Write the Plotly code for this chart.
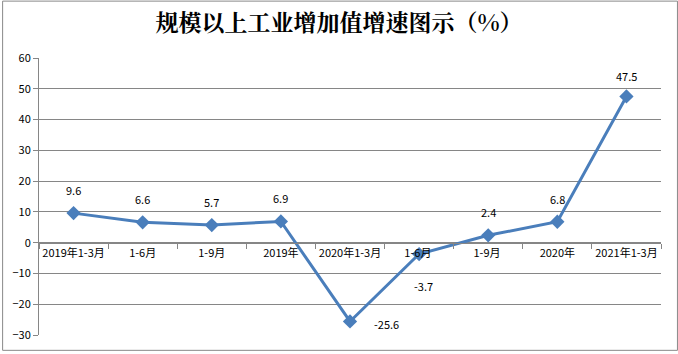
import plotly.graph_objects as go

categories = ["2019年1-3月", "1-6月", "1-9月", "2019年", "2020年1-3月", "1-6月 ", "1-9月 ", "2020年", "2021年1-3月"]
values = [9.6, 6.6, 5.7, 6.9, -25.6, -3.7, 2.4, 6.8, 47.5]
label_shift = [(0, 23), (0, 23), (0, 23), (0, 23), (36, -3), (4, -32), (0, 23), (0, 23), (0, 20)]
y_ticks = [-30, -20, -10, 0, 10, 20, 30, 40, 50, 60]

W, H = 678, 354
L, R, T, B = 37, 17, 58, 16
pw, ph = W - L - R, H - T - B

fig = go.Figure()
fig.add_trace(go.Scatter(
    x=categories, y=values, mode="lines+markers",
    line=dict(color="#4A7EBB", width=3),
    marker=dict(symbol="diamond", size=11, color="#4A7EBB"),
    xaxis="x2", yaxis="y", hoverinfo="skip", showlegend=False,
))

for c, v, (dx, dy) in zip(categories, values, label_shift):
    fig.add_annotation(x=c, y=v, xref="x2", yref="y", text=f"{v}", showarrow=False,
                       xshift=dx, yshift=dy,
                       font=dict(family="Noto Sans CJK SC", size=11, color="#000000"))

fig.add_shape(type="rect", xref="paper", yref="paper",
              x0=-(L - 0.5) / pw, x1=1 + (R - 0.5) / pw,
              y0=-(B - 0.5) / ph, y1=1 + (T - 0.5) / ph,
              line=dict(color="#888888", width=1), layer="below")

fig.update_layout(
    width=W, height=H,
    margin=dict(l=L, r=R, t=T, b=B, pad=0),
    paper_bgcolor="white", plot_bgcolor="white",
    title=dict(text="<b>规模以上工业增加值增速图示（%）</b>", x=0.5, xanchor="center",
               y=1 - 23 / H, yanchor="middle",
               font=dict(family="Noto Serif CJK SC, Noto Sans CJK SC", size=23, color="#000000")),
    xaxis2=dict(type="category", anchor="free", position=30 / 90,
                domain=[0, 1], range=[-0.5, 8.5], tickangle=0,
                showline=True, linecolor="#868686", linewidth=1,
                ticks="outside", tickson="boundaries", ticklen=5, tickcolor="#868686",
                showgrid=False, zeroline=False,
                tickfont=dict(family="Noto Sans CJK SC", size=11, color="#000000")),
    xaxis=dict(visible=False),
    yaxis=dict(range=[-30, 60], tickvals=y_ticks, showline=True, linecolor="#868686",
               linewidth=1, ticks="outside", ticklen=5, tickcolor="#868686",
               showgrid=True, gridcolor="#868686", gridwidth=1, zeroline=False,
               tickfont=dict(family="Noto Sans CJK SC", size=11, color="#000000")),
)

fig.write_html("out.html")
